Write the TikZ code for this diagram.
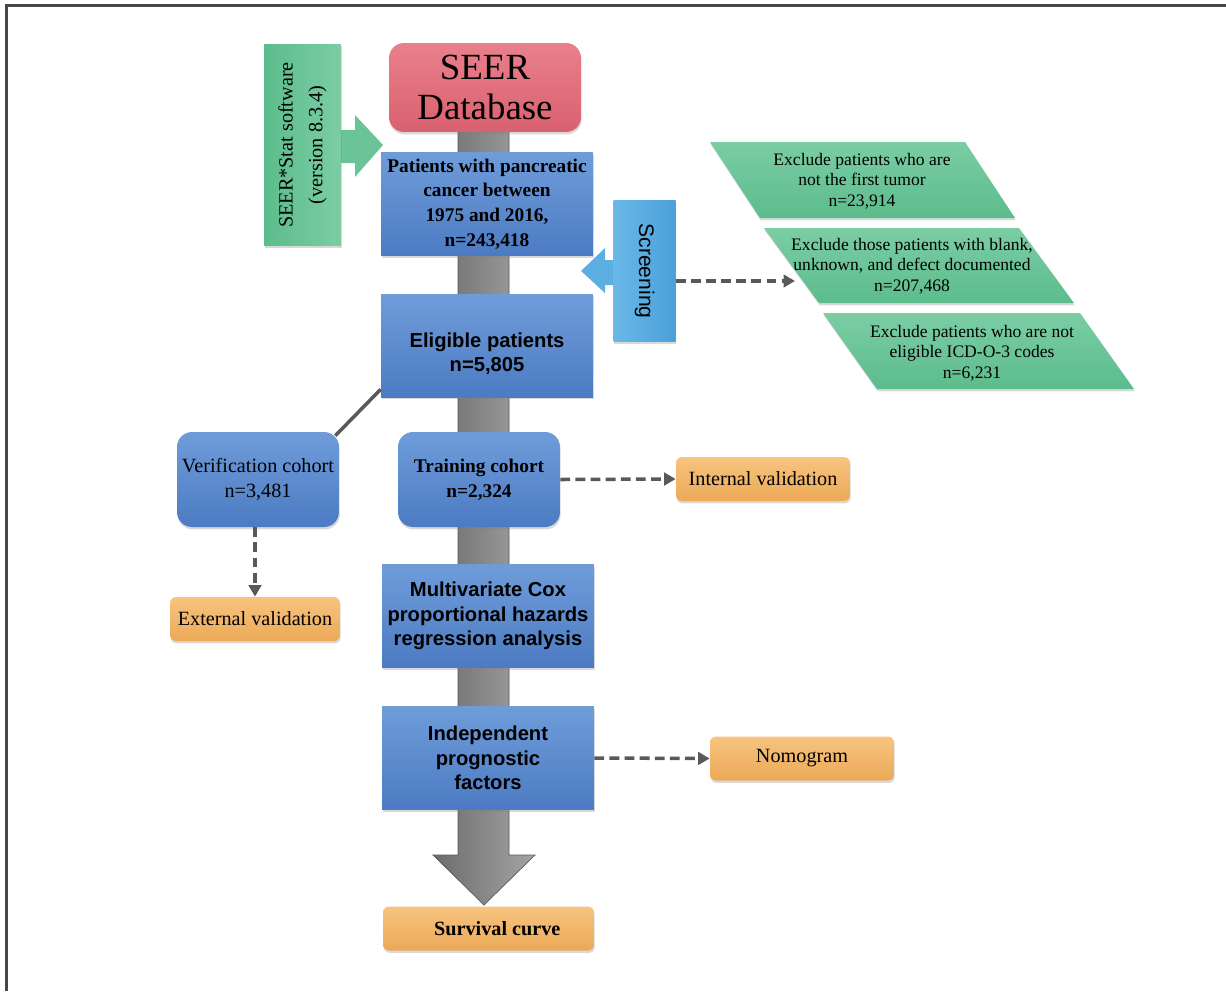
\documentclass[tikz,border=0pt]{standalone}
\usepackage{fontspec}
\setmainfont{Liberation Serif}
\setsansfont{Liberation Sans}
\usetikzlibrary{arrows.meta,calc,shadows}
\definecolor{bluetop}{HTML}{6F9CD9}
\definecolor{bluebot}{HTML}{4C7BC3}
\definecolor{redtop}{HTML}{E8808B}
\definecolor{redbot}{HTML}{DA616F}
\definecolor{grntop}{HTML}{7BCDA4}
\definecolor{grnbot}{HTML}{5CBC8C}
\definecolor{skytop}{HTML}{6AB8E7}
\definecolor{skybot}{HTML}{4AA1DA}
\definecolor{orgtop}{HTML}{F7C47F}
\definecolor{orgbot}{HTML}{ECA957}
\definecolor{bardark}{HTML}{6C6C6C}
\definecolor{barlight}{HTML}{A4A4A4}
\definecolor{linegray}{HTML}{595959}
\definecolor{rimgray}{HTML}{474747}
\tikzset{boxshadow/.style={drop shadow={opacity=.3,shadow xshift=.4pt,shadow yshift=-1.4pt}}, redbox/.style={rectangle,rounded corners=.3cm,top color=redtop,bottom color=redbot,minimum width=3.84cm,minimum height=1.78cm,align=center,font=\fontsize{21}{23}\selectfont,boxshadow}, bluebox/.style={rectangle,top color=bluetop,bottom color=bluebot,minimum width=4.24cm,minimum height=2.06cm,align=center,inner sep=1pt,boxshadow}, sansbox/.style={bluebox,font=\sffamily\bfseries\fontsize{11.5}{13.8}\selectfont}, cohort/.style={bluebox,rounded corners=.3cm,minimum width=3.24cm,minimum height=1.9cm,font=\fontsize{11.5}{14}\selectfont}, outcome/.style={rectangle,rounded corners=.12cm,top color=orgtop,bottom color=orgbot,minimum height=.88cm,font=\fontsize{11.5}{14}\selectfont,boxshadow}, softbox/.style={rectangle,rotate=90,left color=grnbot,right color=grntop,minimum width=4.04cm,minimum height=1.54cm,align=center,font=\fontsize{11.5}{17}\selectfont,boxshadow}, screenbox/.style={rectangle,rotate=-90,left color=skytop,right color=skybot,minimum width=2.82cm,minimum height=1.24cm,font=\sffamily\fontsize{12}{14}\selectfont,boxshadow}, excl/.style={top color=grntop,bottom color=grnbot,boxshadow}, note/.style={align=center,font=\fontsize{10}{11.6}\selectfont}, backbone/.style={left color=bardark,right color=barlight,draw=linegray,line width=.4pt}, flow/.style={-{Triangle[length=2.3mm,width=2.5mm]},line width=2pt,draw=linegray,dash pattern=on 5.6pt off 3pt}, link/.style={line width=2pt,draw=linegray}, rim/.style={line width=1.3pt,draw=rimgray}}
\begin{document}
\begin{tikzpicture}[x=0.02cm,y=-0.02cm]
\useasboundingbox (0,0) rectangle (1226,991);
\draw[rim] (6.5,991) |- (1226,5.5);
\path[backbone] (458,130) -- (509,130) -- (509,855) -- (535,855) -- (484,905) -- (433,855) -- (458,855) -- cycle;
\fill[grntop!45!grnbot] (340,130) -- (355,130) -- (355,115) -- (383,145) -- (355,177) -- (355,163) -- (340,163) -- cycle;
\fill[skytop!60!skybot] (614,260) -- (605,260) -- (605,248) -- (581,271) -- (605,293) -- (605,285) -- (614,285) -- cycle;
\path[excl] (710,142) -- (965,142) -- (1015,218) -- (760,218) -- cycle;
\path[excl] (764,228) -- (1019,228) -- (1074,303) -- (819,303) -- cycle;
\path[excl] (823,313) -- (1080,313) -- (1134,389) -- (877,389) -- cycle;
\node[redbox] (seer) at (485,87.5) {SEER\\Database};
\node[softbox] (soft) at (302.5,145) {SEER*Stat software\\(version 8.3.4)};
\node[bluebox,font=\bfseries\fontsize{11}{14}\selectfont] (pat) at (487,204) {Patients with pancreatic\\cancer between\\1975 and 2016,\\n=243,418};
\node[screenbox] (screen) at (644.5,271) {Screening};
\node[sansbox] (elig) at (487,345.5) {\rule{0pt}{17.5pt}Eligible patients\\n=5,805};
\node[note] (ex1) at (862,181) {Exclude patients who are\\not the first tumor\\n=23,914};
\node[note] (ex2) at (912,266) {Exclude those patients with blank,\\unknown, and defect documented\\n=207,468};
\node[note] (ex3) at (972,353) {Exclude patients who are not\\eligible ICD-O-3 codes\\n=6,231};
\node[cohort] (verif) at (258,479.5) {Verification cohort\\n=3,481};
\node[cohort,font=\bfseries\fontsize{11}{14}\selectfont] (train) at (479,479.5) {Training cohort\\n=2,324};
\node[outcome,minimum width=3.48cm] (intval) at (763,479) {Internal validation};
\node[outcome,minimum width=3.4cm] (extval) at (255,619) {External validation};
\node[sansbox] (cox) at (488,616) {Multivariate Cox\\proportional hazards\\regression analysis};
\node[sansbox] (indep) at (488,758) {Independent\\prognostic\\factors};
\node[outcome,minimum width=3.68cm] (nomo) at (802,758.5) {Nomogram};
\node[outcome,minimum width=4.22cm,font=\bfseries\fontsize{11.5}{14}\selectfont] (surv) at (488.5,928.5) {\hspace*{10pt}Survival curve};
\coordinate (ex2in) at (795,281);
\draw[flow] (screen.north |- ex2in) -- (ex2in);
\draw[flow] (train.east) -- (intval.west);
\draw[flow] (verif.south -| extval.north) -- (extval.north);
\draw[flow] (indep.east) -- (nomo.west);
\draw[link] ($(elig.south west)+(0,-8)$) -- ($(verif.north east)+(-4,4)$);
\end{tikzpicture}
\end{document}
